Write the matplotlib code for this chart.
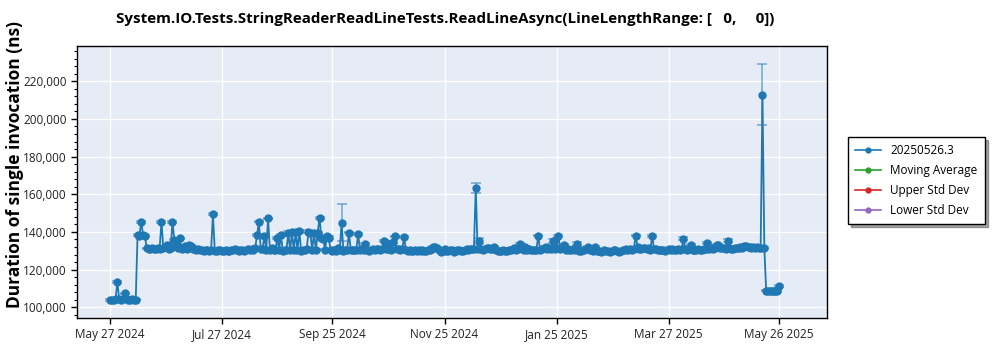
import matplotlib
matplotlib.use("Agg")
import matplotlib.pyplot as plt
from matplotlib.ticker import FuncFormatter, MultipleLocator, AutoMinorLocator
from matplotlib.lines import Line2D
import pandas as pd
import numpy as np

plt.rcParams['font.family'] = ['Open Sans', 'DejaVu Sans']

title = "System.IO.Tests.StringReaderReadLineTests.ReadLineAsync(LineLengthRange: [   0,     0])"
ylabel = "Duration of single invocation (ns)"
series_names = ["20250526.3", "Moving Average", "Upper Std Dev", "Lower Std Dev"]
series_colors = ["#1f77b4", "#2ca02c", "#d62728", "#9467bd"]

start_date = "2024-05-27"

# daily durations in thousands of ns
values_k = [
    103.8, 104.1, 103.6, 104.3, 113.3, 104.5, 103.9, 104.2, 107.4, 104.6,
    104.0, 103.7, 104.3, 103.9, 104.1, 138.3, 138.0, 145.4, 138.2, 137.8,
    131.3, 131.0, 130.8, 131.4, 131.2, 130.9, 131.6, 131.0, 145.5, 131.5,
    131.8, 132.9, 131.2, 131.4, 145.5, 135.7, 133.0, 131.3, 136.6, 131.0,
    131.4, 132.8, 131.2, 133.2, 132.6, 131.0, 130.7, 130.4, 131.2, 130.6,
    130.3, 130.0, 130.5, 130.2, 129.8, 130.4, 149.4, 130.1, 129.9, 130.3,
    130.6, 130.0, 129.7, 130.4, 130.1, 129.9, 130.6, 130.3, 131.0, 130.2,
    129.8, 130.3, 130.5, 130.0, 130.4, 130.9, 130.2, 131.2, 130.6, 131.4,
    138.4, 145.5, 130.8, 131.0, 137.9, 130.6, 147.2, 130.5, 131.3, 130.4,
    130.2, 136.6, 130.4, 138.4, 130.1, 130.6, 130.3, 139.7, 130.2, 139.8,
    130.3, 139.9, 130.5, 140.3, 130.1, 130.6, 130.2, 130.8, 140.2, 139.5,
    130.4, 139.7, 130.3, 139.7, 147.3, 136.9, 136.5, 130.6, 137.6, 137.0,
    130.2, 129.9, 130.4, 130.0, 131.5, 130.4, 144.9, 130.1, 130.3, 130.6,
    139.7, 130.3, 130.6, 130.2, 130.5, 138.9, 130.2, 130.8, 130.4, 133.5,
    130.4, 130.0, 130.3, 131.2, 130.6, 130.8, 131.2, 130.5, 130.9, 135.3,
    131.2, 130.8, 133.5, 130.6, 134.5, 137.6, 130.8, 131.0, 130.5, 130.7,
    137.3, 130.5, 129.8, 130.2, 129.9, 130.1, 130.4, 129.7, 130.2, 130.0,
    130.3, 129.8, 130.1, 130.6, 130.2, 131.0, 132.0, 132.0, 131.5, 130.2,
    129.6, 130.1, 130.7, 129.8, 130.0, 130.3, 130.6, 129.4, 129.9, 130.2,
    130.4, 130.1, 129.8, 130.5, 130.9, 130.6, 131.2, 131.0, 130.8, 163.4,
    131.0, 135.3, 131.1, 130.4, 130.8, 131.5, 131.7, 131.2, 130.9, 132.0,
    130.4, 129.8, 130.0, 129.7, 130.2, 130.1, 129.9, 130.4, 130.6, 131.0,
    131.3, 130.5, 131.0, 133.5, 130.8, 130.4, 132.1, 130.5, 130.7, 130.2,
    130.6, 130.2, 130.6, 138.1, 130.4, 130.9, 131.4, 132.2, 130.8, 131.5,
    131.2, 135.1, 130.8, 131.6, 137.8, 130.9, 131.3, 133.1, 130.4, 130.9,
    130.2, 130.6, 130.9, 130.4, 133.7, 130.1, 129.9, 130.3, 130.5, 130.7,
    132.0, 130.3, 130.6, 130.1, 132.0, 129.8, 130.0, 129.6, 129.9, 130.2,
    129.7, 130.1, 129.6, 129.8, 130.2, 130.4, 130.1, 129.5, 129.9, 130.3,
    130.4, 130.8, 130.5, 130.9, 130.6, 130.9, 138.1, 132.0, 131.2, 130.7,
    131.6, 131.4, 130.8, 131.3, 130.5, 137.9, 130.9, 131.2, 130.6, 130.3,
    130.2, 130.6, 130.0, 130.3, 130.7, 130.4, 130.8, 130.2, 130.5, 131.0,
    130.6, 130.9, 136.4, 130.8, 130.5, 131.0, 133.0, 130.6, 130.2, 130.5,
    130.9, 130.4, 130.2, 130.7, 131.0, 134.0, 131.0, 131.4, 131.2, 131.3,
    133.0, 133.0, 131.6, 131.3, 131.5, 131.2, 135.2, 131.4, 131.0, 131.2,
    131.7, 131.5, 131.3, 131.8, 131.6, 132.3, 132.6, 132.2, 131.9, 131.5,
    131.8, 131.6, 132.0, 131.4, 131.7, 212.8, 131.4, 108.8, 108.6, 108.9,
    108.5, 108.7, 108.9, 108.7, 111.5,
]

# standard deviation of each run, thousands of ns
errors_k = [
    0.4, 0.4, 0.4, 0.4, 0.5, 0.4, 0.4, 0.4, 0.4, 0.4,
    0.4, 0.4, 0.4, 0.4, 0.4, 0.4, 0.4, 0.5, 0.4, 0.4,
    0.4, 0.4, 0.4, 0.4, 0.4, 0.4, 0.4, 0.4, 0.5, 0.4,
    0.4, 0.4, 0.4, 0.4, 0.5, 0.4, 0.4, 0.4, 0.4, 0.4,
    0.4, 0.4, 0.4, 0.4, 0.4, 0.4, 0.4, 0.4, 0.4, 0.4,
    0.4, 0.4, 0.4, 0.4, 0.4, 0.4, 0.5, 0.4, 0.4, 0.4,
    0.4, 0.4, 0.4, 0.4, 0.4, 0.4, 0.4, 0.4, 0.4, 0.4,
    0.4, 0.4, 0.4, 0.4, 0.4, 0.4, 0.4, 0.4, 0.4, 0.4,
    0.5, 0.4, 0.4, 0.4, 0.5, 0.4, 0.4, 0.4, 0.4, 0.4,
    0.4, 0.5, 0.4, 0.6, 0.4, 0.4, 0.4, 0.7, 0.4, 0.5,
    0.4, 0.5, 0.4, 0.5, 0.4, 0.4, 0.4, 0.4, 0.6, 0.5,
    0.4, 0.5, 0.4, 0.5, 0.4, 0.6, 0.5, 0.4, 0.9, 0.6,
    0.4, 0.4, 0.4, 0.4, 0.4, 0.4, 9.8, 0.4, 0.4, 0.4,
    0.5, 0.4, 0.4, 0.4, 0.4, 0.5, 0.4, 0.4, 0.4, 0.5,
    0.4, 0.4, 0.4, 0.4, 0.4, 0.4, 0.4, 0.4, 0.4, 0.6,
    0.4, 0.4, 0.5, 0.4, 0.5, 0.5, 0.4, 0.4, 0.4, 0.4,
    0.5, 0.4, 0.4, 0.4, 0.4, 0.4, 0.4, 0.4, 0.4, 0.4,
    0.4, 0.4, 0.4, 0.4, 0.4, 0.4, 0.4, 0.4, 0.4, 0.4,
    0.4, 0.4, 0.4, 0.4, 0.4, 0.4, 0.4, 0.4, 0.4, 0.4,
    0.4, 0.4, 0.4, 0.4, 0.4, 0.4, 0.4, 0.4, 0.4, 2.8,
    0.4, 1.6, 0.4, 0.4, 0.4, 0.4, 0.4, 0.4, 0.4, 0.4,
    0.4, 0.4, 0.4, 0.4, 0.4, 0.4, 0.4, 0.4, 0.4, 0.4,
    0.4, 0.4, 0.4, 0.5, 0.4, 0.4, 0.4, 0.4, 0.4, 0.4,
    0.4, 0.4, 0.4, 0.5, 0.4, 0.4, 0.4, 0.4, 0.4, 0.4,
    0.4, 0.9, 0.4, 0.4, 0.5, 0.4, 0.4, 0.5, 0.4, 0.4,
    0.4, 0.4, 0.4, 0.4, 0.8, 0.4, 0.4, 0.4, 0.4, 0.4,
    0.4, 0.4, 0.4, 0.4, 0.4, 0.4, 0.4, 0.4, 0.4, 0.4,
    0.4, 0.4, 0.4, 0.4, 0.4, 0.4, 0.4, 0.4, 0.4, 0.4,
    0.4, 0.4, 0.4, 0.4, 0.4, 0.4, 0.5, 0.4, 0.4, 0.4,
    0.4, 0.4, 0.4, 0.4, 0.4, 0.5, 0.4, 0.4, 0.4, 0.4,
    0.4, 0.4, 0.4, 0.4, 0.4, 0.4, 0.4, 0.4, 0.4, 0.4,
    0.4, 0.4, 0.9, 0.4, 0.4, 0.4, 0.5, 0.4, 0.4, 0.4,
    0.4, 0.4, 0.4, 0.4, 0.4, 0.5, 0.4, 0.4, 0.4, 0.4,
    0.5, 0.4, 0.4, 0.4, 0.4, 0.4, 0.8, 0.4, 0.4, 0.4,
    0.4, 0.4, 0.4, 0.4, 0.4, 0.4, 0.4, 0.4, 0.4, 0.4,
    0.4, 0.4, 0.4, 0.4, 0.4, 16.2, 0.4, 0.4, 0.4, 0.4,
    0.4, 0.4, 0.4, 0.4, 0.5,
]

xtick_dates = ["2024-05-27", "2024-07-27", "2024-09-25", "2024-11-25",
               "2025-01-25", "2025-03-27", "2025-05-26"]
xtick_labels = ["May 27 2024", "Jul 27 2024", "Sep 25 2024", "Nov 25 2024",
                "Jan 25 2025", "Mar 27 2025", "May 26 2025"]

dates = pd.date_range(start_date, periods=len(values_k), freq="D")
values = np.array(values_k) * 1000
errors = np.array(errors_k) * 1000

fig = plt.figure(figsize=(10, 3.5), dpi=100)
ax = fig.add_axes([0.077, 0.0914, 0.750, 0.7772])
ax.set_facecolor("#E5ECF6")

c = series_colors[0]
ax.errorbar(dates, values, yerr=errors, fmt='none', ecolor=c, elinewidth=1.2,
            capsize=3.5, capthick=1.2, alpha=0.55, zorder=2)
ax.plot(dates, values, color=c, lw=1.3, marker='o', ms=5, zorder=3)

ax.set_xlim(pd.Timestamp("2024-05-27") - pd.Timedelta(days=17.95),
            pd.Timestamp("2024-05-27") + pd.Timedelta(days=390.1))
ax.set_ylim(94300, 238750)

ax.yaxis.set_major_locator(MultipleLocator(20000))
ax.yaxis.set_minor_locator(AutoMinorLocator(5))
ax.yaxis.set_major_formatter(FuncFormatter(lambda v, p: f"{int(v):,}"))
ax.set_xticks([pd.Timestamp(d) for d in xtick_dates])
ax.set_xticklabels(xtick_labels)

ax.grid(True, which='major', color='white', lw=1.0)
ax.set_axisbelow(True)
for s in ax.spines.values():
    s.set_color('black')
    s.set_linewidth(1.0)
ax.tick_params(axis='both', which='major', labelsize=8.5, colors='black',
               length=4, width=1, labelcolor='#222222')
ax.tick_params(axis='y', which='minor', length=2, width=0.8)

ax.set_ylabel(ylabel, fontsize=12.5, fontweight='bold')
ax.yaxis.set_label_coords(-0.07, 0.5625)
fig.text(0.445, 1 - 19 / 350, title, ha='center', va='center',
         fontsize=10.9, fontweight='bold')

handles = [Line2D([0], [0], color=col, lw=1.2, marker='o', ms=3.5)
           for col in series_colors]
leg = fig.legend(handles, series_names, loc='upper left',
                 bbox_to_anchor=(0.848, 1 - 137 / 350), fontsize=8.5,
                 frameon=True, fancybox=False, shadow=True,
                 handlelength=2.2, borderpad=0.6, labelspacing=0.6,
                 borderaxespad=0)
leg.get_frame().set_edgecolor('black')
leg.get_frame().set_linewidth(1.0)

fig.savefig("out.png", dpi=100)
